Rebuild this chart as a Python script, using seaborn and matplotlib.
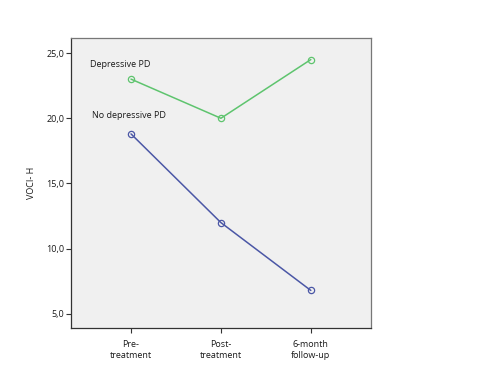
import matplotlib
matplotlib.use('Agg')
import matplotlib.pyplot as plt
import seaborn as sns
import pandas as pd

# data
timepoints = ['Pre-\ntreatment', 'Post-\ntreatment', '6-month\nfollow-up']
depressive = [23.0, 20.0, 24.5]
no_depressive = [18.8, 12.0, 6.8]
y_ticks = [5, 10, 15, 20, 25]

df = pd.DataFrame({
    'time': list(range(3)) * 2,
    'voci': depressive + no_depressive,
    'group': ['Depressive PD'] * 3 + ['No depressive PD'] * 3,
})

sns.set_style('white')
plt.rcParams['font.family'] = ['Open Sans', 'DejaVu Sans']
plt.rcParams['text.color'] = '#1a1a1a'
plt.rcParams['xtick.color'] = '#1a1a1a'
plt.rcParams['ytick.color'] = '#1a1a1a'
plt.rcParams['axes.labelcolor'] = '#1a1a1a'

fig = plt.figure(figsize=(4.97, 3.73), dpi=100)
ax = fig.add_axes([0.143, 0.121, 0.603, 0.777])
ax.set_facecolor('#f0f0f0')

pal = {'Depressive PD': '#5ec46e', 'No depressive PD': '#4b57a6'}
sns.lineplot(data=df, x='time', y='voci', hue='group', palette=pal,
             marker='o', markersize=4.5, linewidth=1.1, legend=False, ax=ax)
for ln in ax.get_lines():
    ln.set_markerfacecolor('none')
    ln.set_markeredgecolor(ln.get_color())
    ln.set_markeredgewidth(0.9)

ax.text(-0.46, 24.15, 'Depressive PD', fontsize=6.5, va='center', ha='left')
ax.text(-0.43, 20.25, 'No depressive PD', fontsize=6.5, va='center', ha='left')

ax.set_xlim(-0.667, 2.667)
ax.set_ylim(3.93, 26.15)
ax.set_xticks(range(3))
ax.set_xticklabels(timepoints, fontsize=6.5, linespacing=1.4)
ax.set_yticks(y_ticks)
ax.set_yticklabels([f'{v:.1f}'.replace('.', ',') for v in y_ticks], fontsize=6.5)
ax.tick_params(axis='both', direction='out', length=3.5, width=0.8, color='#333333',
               left=True, bottom=True, pad=1.5)
ax.tick_params(axis='x', pad=5)
ax.set_xlabel('')
ax.set_ylabel('VOCI- H', fontsize=6.5, labelpad=7)

for s in ax.spines.values():
    s.set_color('#777777')
    s.set_linewidth(0.9)
ax.spines['left'].set_color('#333333')
ax.spines['bottom'].set_color('#333333')

fig.savefig('out.png', dpi=100)
